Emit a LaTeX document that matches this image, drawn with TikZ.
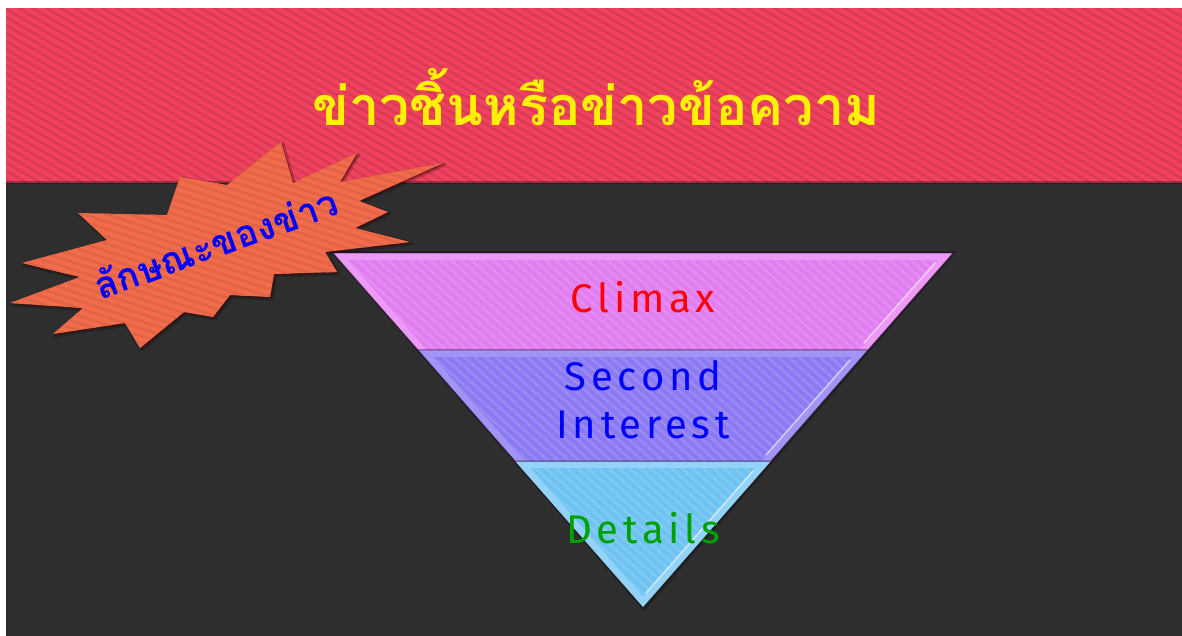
\documentclass[tikz,border=0pt]{standalone}
\usepackage{fontspec}
\usetikzlibrary{patterns.meta}
\newfontfamily\thaifont[Script=Thai]{Loma}
\newfontfamily\labelfont[LetterSpace=12]{Fira Sans}
\definecolor{bandpink}{HTML}{F0425F}
\definecolor{darkbg}{HTML}{2E2E2E}
\definecolor{burst}{HTML}{F26B4B}
\definecolor{climaxc}{HTML}{E27EF1}
\definecolor{climaxl}{HTML}{EC9AF5}
\definecolor{secondc}{HTML}{8B7AF3}
\definecolor{secondl}{HTML}{A094F5}
\definecolor{detailc}{HTML}{6FC3F3}
\definecolor{detaill}{HTML}{92D3F7}
\definecolor{titley}{HTML}{FFF200}
\definecolor{detailg}{HTML}{00A000}
\tikzset{
  stripes/.style args={#1/#2}{pattern={Lines[angle=#1,distance=7pt,line width=2.5pt]},pattern color=#2},
  bandline/.style={draw=black!60!violet,line width=0.8pt},
  hilite/.style={white,line width=1.5pt,opacity=0.6,line cap=round},
  lab/.style={font=\labelfont\fontsize{40}{48}\selectfont,inner sep=0pt},
}
\begin{document}
\begin{tikzpicture}[x=1pt,y=-1pt]
\useasboundingbox (0,0) rectangle (1182,636);
\fill[white] (0,0) rectangle (1182,636);
% background bands
\fill[bandpink] (6,8) rectangle (1182,183);
\path[stripes={-30/bandpink!90!black}] (6,9) rectangle (1182,183);
\fill[darkbg] (6,183) rectangle (1182,636);
\fill[black,opacity=0.3] (6,181) rectangle (1182,184);
% starburst
\def\burstpath{(281,142) -- (293,183) -- (357,153) -- (340,182) -- (443,163) -- (359,201) -- (388,212) -- (355,228) -- (410,242) -- (325,252) -- (337,272) -- (274,274) -- (270,297) -- (230,295) -- (213,317) -- (184,312) -- (140,348) -- (125,323) -- (53,334) -- (83,308) -- (10,303) -- (80,277) -- (22,263) -- (107,240) -- (78,213) -- (167,215) -- (180,177) -- (227,185) -- cycle}
\begin{scope}[shift={(1.5,1.5)}]
\draw[black,opacity=0.2,line width=4pt,line join=round] \burstpath;
\fill[black!70!red,opacity=0.45] \burstpath;
\end{scope}
\fill[burst] \burstpath;
\path[stripes={-18/burst!93!black}] \burstpath;
\node[rotate=20,text=blue,inner sep=0pt] (burstlabel) at (216,243) {\thaifont\bfseries\fontsize{37}{40}\selectfont ลักษณะของข่าว};
% title
\node[text=titley,inner sep=0pt] (title) at (596,97) {\thaifont\bfseries\fontsize{54}{60}\selectfont ข่าวชิ้นหรือข่าวข้อความ};
% pyramid
\coordinate (tl) at (333,253);
\coordinate (tr) at (953,253);
\coordinate (ml) at (418,350);
\coordinate (mr) at (868,350);
\coordinate (bl) at (515,461);
\coordinate (br) at (771,461);
\coordinate (apex) at (643,607);
\fill[black,opacity=0.3] (330,251) -- (957,251) -- (644,611) -- cycle;
% band 1
\fill[climaxl] (tl) -- (tr) -- (mr) -- (ml) -- cycle;
\fill[climaxc] (348.4,260) -- (937.6,260) -- (859.1,350) -- (426.9,350) -- cycle;
\path[stripes={-42/climaxc!88!white}] (348.4,260) -- (937.6,260) -- (859.1,350) -- (426.9,350) -- cycle;
\draw[hilite] (935,263) -- (864,343);
\draw[bandline,draw opacity=0.6] (tl) -- (tr) -- (mr) -- (ml) -- cycle;
% band 2
\fill[secondl] (ml) -- (mr) -- (br) -- (bl) -- cycle;
\fill[secondc] (433.4,357) -- (852.6,357) -- (761.5,461) -- (524.5,461) -- cycle;
\path[stripes={-42/secondc!88!white}] (433.4,357) -- (852.6,357) -- (761.5,461) -- (524.5,461) -- cycle;
\draw[hilite] (850,360) -- (766,455);
\draw[bandline,draw opacity=0.6] (ml) -- (mr) -- (br) -- (bl) -- cycle;
% band 3
\fill[detaill] (bl) -- (br) -- (apex) -- cycle;
\fill[detailc] (530.6,468) -- (755.4,468) -- (643,596.4) -- cycle;
\path[stripes={-42/detailc!88!white}] (530.6,468) -- (755.4,468) -- (643,596.4) -- cycle;
\draw[hilite] (753,471) -- (646,593);
\draw[bandline,draw opacity=0.5] (bl) -- (br);
% labels
\node[lab,text=red] (climax) at (643,297) {Climax};
\node[lab,text=blue,align=center,font=\labelfont\fontsize{40}{48}\selectfont] (second) at (643,400) {Second\\Interest};
\node[lab,text=detailg] (details) at (643,528) {Details};
\end{tikzpicture}
\end{document}
